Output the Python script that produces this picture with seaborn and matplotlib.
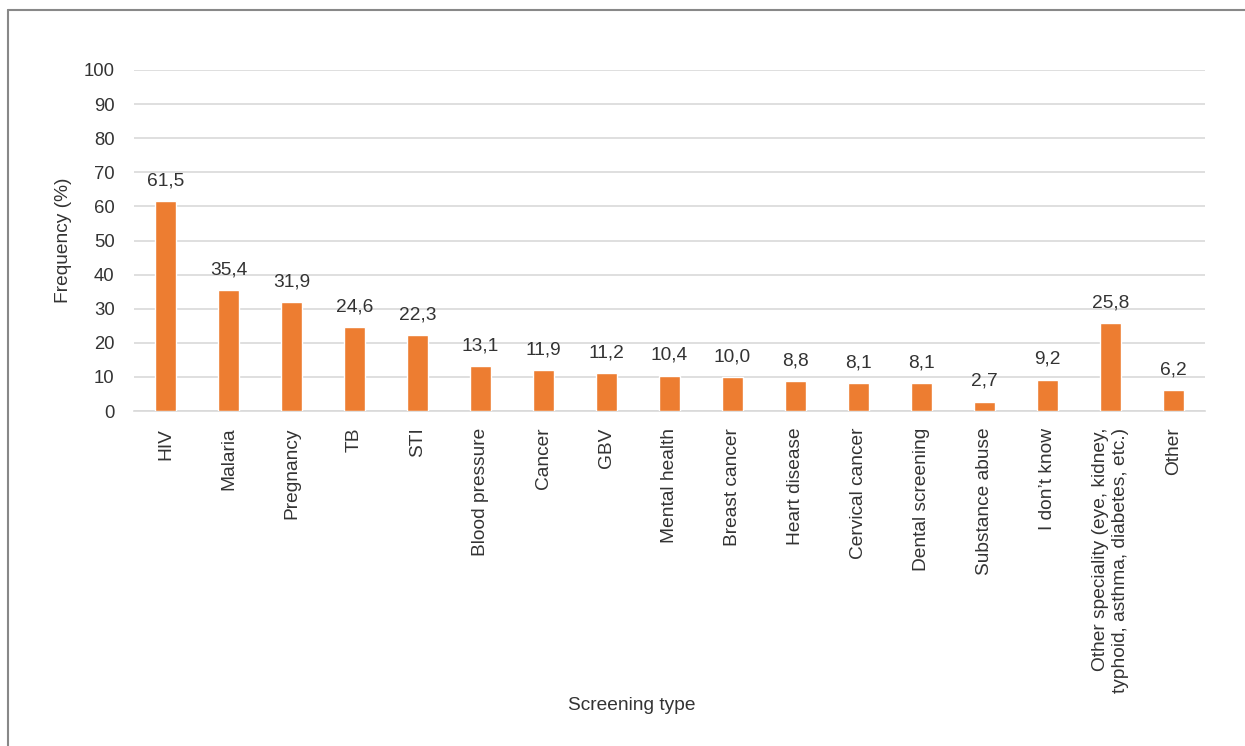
import matplotlib
matplotlib.use("Agg")
import matplotlib.pyplot as plt
import seaborn as sns
import pandas as pd
from matplotlib.lines import Line2D

categories = ["HIV", "Malaria", "Pregnancy", "TB", "STI", "Blood pressure", "Cancer",
              "GBV", "Mental health", "Breast cancer", "Heart disease", "Cervical cancer",
              "Dental screening", "Substance abuse", "I don\u2019t know",
              "Other speciality (eye, kidney,\ntyphoid, asthma, diabetes, etc.)", "Other"]
values = [61.5, 35.4, 31.9, 24.6, 22.3, 13.1, 11.9, 11.2, 10.4, 10.0, 8.8, 8.1, 8.1,
          2.7, 9.2, 25.8, 6.2]
yticks = [0, 10, 20, 30, 40, 50, 60, 70, 80, 90, 100]

sns.set_theme(style="white")
plt.rcParams['font.family'] = ['Liberation Sans', 'DejaVu Sans']

TXT = "#333333"
FS = 13.8

df = pd.DataFrame({"cat": categories, "val": values})

fig = plt.figure(figsize=(12.45, 7.46), dpi=100)
ax = fig.add_axes([134/1245, 1-411/746, 1071/1245, 341/746])

sns.barplot(data=df, x="cat", y="val", color="#ED7D31", width=0.32, saturation=1,
            ax=ax, zorder=3)

ax.set_ylim(0, 100)
ax.set_xlim(-0.5, len(categories)-0.5)
ax.set_yticks(yticks)
ax.set_yticklabels([str(t) for t in yticks], fontsize=13.3, color=TXT)
ax.yaxis.grid(True, color="#D9D9D9", linewidth=1.2, zorder=0)
ax.set_axisbelow(True)
for s in ["top", "right", "left"]:
    ax.spines[s].set_visible(False)
ax.spines["bottom"].set_color("#D9D9D9")
ax.spines["bottom"].set_linewidth(1.2)
ax.tick_params(axis="y", length=0, pad=14)
ax.tick_params(axis="x", length=0, pad=12)

ax.set_xticks(range(len(categories)))
labels = ax.set_xticklabels(categories, rotation=90, fontsize=FS, color=TXT,
                            va="top", ha="center")
for lab in labels:
    lab.set_multialignment("right")

for i, v in enumerate(values):
    ax.annotate(f"{v:.1f}".replace(".", ","), xy=(i, v), xytext=(0, 8.5),
                textcoords="offset points", ha="center", va="bottom",
                fontsize=FS, color=TXT)

ax.set_xlabel("")
fig.text(632/1245, 1-705/746, "Screening type", fontsize=FS, color=TXT,
         ha="center", va="center")
ax.set_ylabel("")
fig.text(63/1245, 1-240/746, "Frequency (%)", fontsize=FS, color=TXT,
         ha="center", va="center", rotation=90)

# outer frame
fig.add_artist(Line2D([8/1245, 1.0], [1-10/746, 1-10/746], transform=fig.transFigure,
                      color="#888888", linewidth=1.5))
fig.add_artist(Line2D([8/1245, 8/1245], [0, 1-10/746], transform=fig.transFigure,
                      color="#888888", linewidth=1.5))

fig.savefig("out.png", dpi=100)
